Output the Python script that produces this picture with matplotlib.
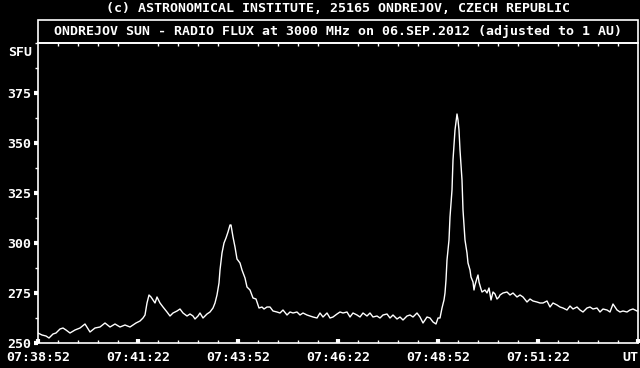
import matplotlib as mpl
import matplotlib.pyplot as plt
from matplotlib.patches import Rectangle
from matplotlib.ticker import MultipleLocator
mpl.use('agg')

# seconds after 07:38:52 UT
seconds = [0, 6, 12, 16.5, 22.5, 27, 33, 37.5, 42, 48, 55.5, 63, 70.5, 78, 85.5, 93, 100.5, 108,
           115.5, 123, 130.5, 138, 147, 153, 157.5, 160.5, 163.5, 166.5, 169.5, 172.5, 175.5, 178.5,
           183, 187.5, 193.5, 198, 202.5, 208.5, 213, 217.5, 223.5, 228, 232.5, 235.5, 240, 243,
           247.5, 253.5, 258, 262.5, 265.5, 268.5, 271.5, 273, 276, 279, 282, 285, 288, 289.5,
           292.5, 295.5, 298.5, 303, 306, 310.5, 313.5, 318, 322.5, 327, 331.5, 336, 339, 343.5,
           348, 352.5, 358.5, 363, 367.5, 373.5, 378, 382.5, 388.5, 393, 397.5, 403.5, 408, 412.5,
           418.5, 423, 427.5, 433.5, 438, 442.5, 448.5, 453, 457.5, 463.5, 468, 472.5, 478.5, 483,
           487.5, 493.5, 498, 502.5, 508.5, 513, 517.5, 523.5, 528, 532.5, 538.5, 543, 547.5, 553.5,
           558, 562.5, 568.5, 573, 577.5, 583.5, 588, 592.5, 597, 600, 603, 604.5, 606, 609, 610.5,
           612, 613.5, 616.5, 618, 621, 622.5, 625.5, 628.5, 630, 631.5, 633, 636, 637.5, 640.5,
           643.5, 645, 648, 649.5, 652.5, 654, 655.5, 658.5, 660, 661.5, 664.5, 666, 670.5, 673.5,
           676.5, 679.5, 682.5, 685.5, 688.5, 691.5, 693, 697.5, 703.5, 708, 712.5, 718.5, 723,
           727.5, 733.5, 738, 742.5, 748.5, 753, 757.5, 763.5, 768, 772.5, 778.5, 783, 787.5, 793.5,
           798, 802.5, 808.5, 813, 817.5, 823.5, 828, 832.5, 838.5, 843, 847.5, 853.5, 858, 862.5,
           868.5, 873, 877.5, 883.5, 888, 892.5, 898.5]
flux = [255, 254, 253.5, 252.5, 254.5, 255, 257, 257.5, 256.5, 255, 256.5, 257.5, 259.5, 255.5,
        257.5, 258, 260, 258, 259.5, 258, 259, 258, 260, 261, 262.5, 264, 270, 274, 273, 271.5,
        270, 273, 270, 268, 265.5, 263.5, 265, 266, 267, 265, 263.5, 264.5, 263.5, 262, 263.5, 265,
        262.5, 264.5, 265.5, 267.5, 270, 274, 280, 286.5, 295, 300, 302.5, 305.5, 309, 309,
        303, 298, 292, 290, 286.5, 282.5, 278, 276.5, 272.5, 272, 267.5, 268, 267, 268,
        268, 266, 265.5, 265, 266.5, 264, 265.5, 265, 265.5, 264, 265, 264, 263.5, 263,
        262.5, 265, 263, 265, 262.5, 263, 264.5, 265.5, 265, 265.5, 263, 265, 264, 263,
        265, 263.5, 265, 263, 263.5, 262.5, 264, 264.5, 262.5, 264, 262, 263, 261.5, 263.5,
        264, 263, 265, 263, 260, 263, 262.5, 260.5, 259.5, 262.5, 262.5, 265, 267.5, 271.5, 275,
        281.5, 291.5, 301.5, 313, 326.5, 341.5, 356.5, 364.5, 361.5, 356.5, 346.5, 331.5, 316.5, 301.5,
        295, 290, 286.5, 283, 280.5, 276.5, 279, 282.5, 284, 280.5, 277, 275.5, 276.5, 275,
        277.5, 271.5, 275.5, 274.5, 272, 273, 274, 275, 275.5, 274, 275, 273, 274,
        273, 270.5, 272, 271, 270.5, 270, 270, 271, 268, 270, 269, 268, 267.5, 266.5,
        268.5, 267, 268, 266.5, 265.5, 267.5, 268, 267, 267.5, 265.5, 267, 266.5, 265.5, 269.5,
        266.5, 265.5, 266, 265.5, 266.5, 267, 266]

start_h, start_m, start_s = 7, 38, 52
tick_seconds = [0, 150, 300, 450, 600, 750, 900]

def hms(sec):
    total = start_h * 3600 + start_m * 60 + start_s + int(sec)
    return f'{total // 3600:02d}:{(total // 60) % 60:02d}:{total % 60:02d}'

font = {'family': 'DejaVu Sans Mono', 'weight': 'bold', 'size': 9.5}
W, H = 640, 368
fig = plt.figure(figsize=(W / 100, H / 100), dpi=100, facecolor='black')
ax = fig.add_axes([38 / W, (H - 343) / H, 600 / W, 300 / H], facecolor='black')

ax.plot(seconds, flux, color='white', lw=1.0)
ax.set_xlim(0, 900)
ax.set_ylim(250, 400)

for s in ax.spines.values():
    s.set_color('white')
    s.set_linewidth(1.2)

ax.set_yticks([250, 275, 300, 325, 350, 375])
ax.yaxis.set_minor_locator(MultipleLocator(12.5))
ax.set_yticklabels(['250', '275', '300', '325', '350', '375'], fontdict=font, color='white')
ax.tick_params(axis='y', which='major', direction='out', length=3, width=3, color='white', pad=2)
ax.tick_params(axis='y', which='minor', direction='out', length=2, width=1, color='white')

ax.set_xticks(tick_seconds)
labels = [hms(t) for t in tick_seconds[:-1]] + ['UT']
ax.set_xticklabels(labels, fontdict=font, color='white')
ax.get_xticklabels()[-1].set_horizontalalignment('right')
ax.xaxis.set_minor_locator(MultipleLocator(30))
ax.tick_params(axis='x', which='major', direction='in', length=3, width=3, color='white',
               pad=6, top=False)
ax.tick_params(axis='x', which='minor', direction='in', length=2, width=1, color='white',
               top=True)

# title box above the plot
fig.patches.append(Rectangle((38 / W, (H - 43) / H), 600 / W, 23 / H, transform=fig.transFigure,
                             fill=False, edgecolor='white', lw=1.2))
fig.text(338 / W, 1 - 31 / H, 'ONDREJOV SUN - RADIO FLUX at 3000 MHz on 06.SEP.2012 (adjusted to 1 AU)',
         ha='center', va='center', color='white', **font)
fig.text(338 / W, 1 - 9 / H, '(c) ASTRONOMICAL INSTITUTE, 25165 ONDREJOV, CZECH REPUBLIC',
         ha='center', va='center', color='white', **font)
fig.text(32 / W, 1 - 53 / H, 'SFU', ha='right', va='center', color='white', **font)

fig.savefig('out.png', dpi=100, facecolor='black')
